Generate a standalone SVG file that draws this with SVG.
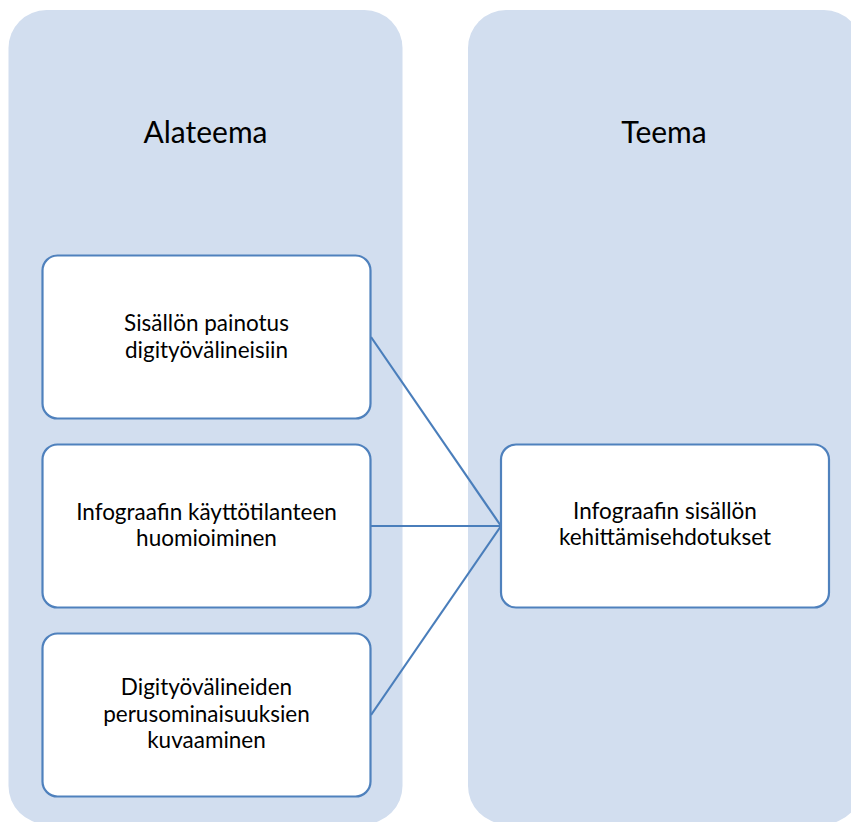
<svg xmlns="http://www.w3.org/2000/svg" width="851" height="822" viewBox="0 0 851 822">
<style>
.col{fill:#D2DEEF;}
.box{fill:#FFFFFF;stroke:#4F81BD;stroke-width:2.2;}
.title{font-family:Lato,"Open Sans",sans-serif;font-size:30px;fill:#000;text-anchor:middle;}
.lbl{font-family:Lato,"Open Sans",sans-serif;font-size:22.5px;fill:#000;text-anchor:middle;}
.conn{stroke:#4A7EBB;stroke-width:2.2;fill:none;}
</style>
<rect width="851" height="822" fill="#FFFFFF"/>
<g id="col-alateema">
<rect class="col" x="8.5" y="10" width="394" height="814" rx="38" ry="38"/>
<text class="title" x="205.5" y="143">Alateema</text>
</g>
<g id="col-teema">
<rect class="col" x="468" y="10" width="394" height="814" rx="38" ry="38"/>
<text class="title" x="664" y="143">Teema</text>
</g>
<g id="connectors">
<line class="conn" x1="371" y1="337" x2="501" y2="526"/>
<line class="conn" x1="371" y1="526" x2="501" y2="526"/>
<line class="conn" x1="371" y1="715" x2="501" y2="526"/>
</g>
<g id="node1">
<rect class="box" x="42.5" y="255.5" width="328" height="163" rx="15" ry="15"/>
<text class="lbl" x="206.5" y="331">Sisällön painotus</text>
<text class="lbl" x="206.5" y="357.5">digityövälineisiin</text>
</g>
<g id="node2">
<rect class="box" x="42.5" y="444.5" width="328" height="163" rx="15" ry="15"/>
<text class="lbl" x="206.5" y="520">Infograafin käyttötilanteen</text>
<text class="lbl" x="206.5" y="546">huomioiminen</text>
</g>
<g id="node3">
<rect class="box" x="42.5" y="633.5" width="328" height="163" rx="15" ry="15"/>
<text class="lbl" x="206.5" y="695">Digityövälineiden</text>
<text class="lbl" x="206.5" y="721.5">perusominaisuuksien</text>
<text class="lbl" x="206.5" y="748">kuvaaminen</text>
</g>
<g id="node-teema">
<rect class="box" x="501" y="444.5" width="328" height="163" rx="15" ry="15"/>
<text class="lbl" x="665" y="519">Infograafin sisällön</text>
<text class="lbl" x="665" y="545">kehittämisehdotukset</text>
</g>
</svg>
